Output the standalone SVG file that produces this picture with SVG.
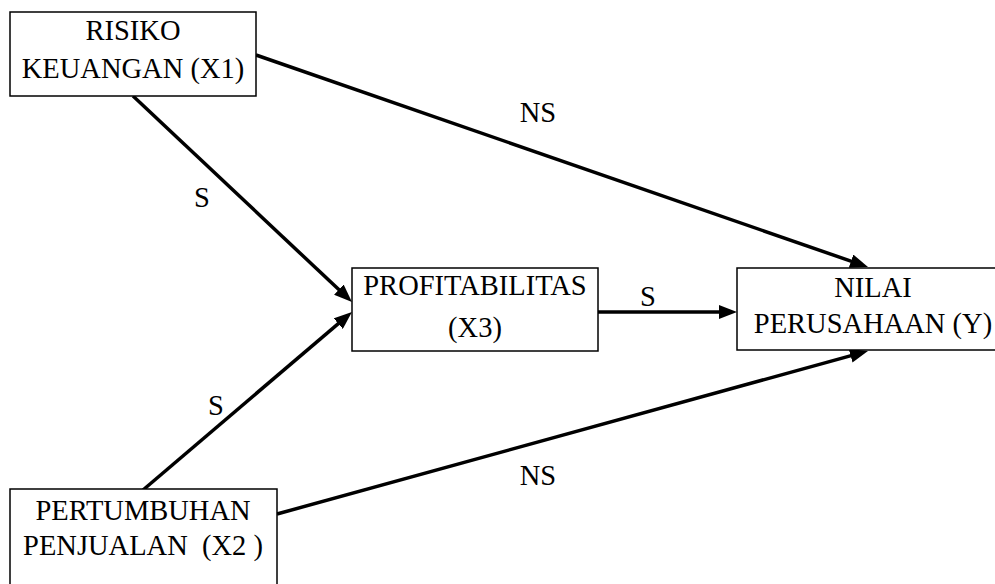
<svg xmlns="http://www.w3.org/2000/svg" width="995" height="584" viewBox="0 0 995 584">
  <style>
    .box { fill: #ffffff; stroke: #000000; stroke-width: 1.5; }
    .lbl { font-family: 'Liberation Serif', 'Times New Roman', Times, 'DejaVu Serif', serif; font-size: 28.5px; fill: #000000; text-anchor: middle; }
    .edge { stroke: #000000; stroke-width: 3.5; fill: none; marker-end: url(#arrow); }
  </style>
  <defs>
    <marker id="arrow" markerUnits="userSpaceOnUse" viewBox="0 0 18 14" refX="9" refY="7" markerWidth="18" markerHeight="14" orient="auto">
      <path d="M0,0 L18,7 L0,14 z" fill="#000000"/>
    </marker>
  </defs>
  <rect width="995" height="584" fill="#ffffff"/>

  <g id="connectors">
    <line class="edge" x1="256" y1="55" x2="859.5" y2="264.1"/>
    <line class="edge" x1="133" y1="96" x2="345.4" y2="295.8"/>
    <line class="edge" x1="143" y1="490" x2="345.1" y2="317.8"/>
    <line class="edge" x1="598" y1="312" x2="728" y2="312"/>
    <line class="edge" x1="277" y1="514" x2="859.3" y2="353.4"/>
    <text class="lbl" font-family="Liberation Serif, serif" x="538" y="122">NS</text>
    <text class="lbl" font-family="Liberation Serif, serif" x="202" y="207">S</text>
    <text class="lbl" font-family="Liberation Serif, serif" x="216" y="415">S</text>
    <text class="lbl" font-family="Liberation Serif, serif" x="648" y="306">S</text>
    <text class="lbl" font-family="Liberation Serif, serif" x="538" y="485">NS</text>
  </g>

  <g id="risiko" font-family="Liberation Serif, serif">
    <rect class="box" x="10" y="12" width="246" height="84"/>
    <text class="lbl" x="133" y="40">RISIKO</text>
    <text class="lbl" x="133" y="78">KEUANGAN (X1)</text>
  </g>

  <g id="pertumbuhan" font-family="Liberation Serif, serif">
    <rect class="box" x="10" y="489" width="267" height="120"/>
    <text class="lbl" x="143" y="520">PERTUMBUHAN</text>
    <text class="lbl" x="143" y="555" xml:space="preserve">PENJUALAN  (X2 )</text>
  </g>

  <g id="profitabilitas" font-family="Liberation Serif, serif">
    <rect class="box" x="352" y="268" width="246" height="83"/>
    <text class="lbl" x="475" y="295">PROFITABILITAS</text>
    <text class="lbl" x="475" y="337">(X3)</text>
  </g>

  <g id="nilai" font-family="Liberation Serif, serif">
    <rect class="box" x="737" y="268" width="272" height="82"/>
    <text class="lbl" x="873" y="297">NILAI</text>
    <text class="lbl" x="873" y="333">PERUSAHAAN (Y)</text>
  </g>
</svg>
